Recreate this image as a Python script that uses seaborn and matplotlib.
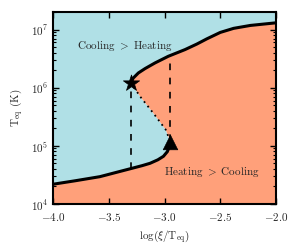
import numpy as np
import pandas as pd
import matplotlib
matplotlib.use("Agg")
import matplotlib.pyplot as plt
import seaborn as sns

# ---- data ----
# stable lower branch (log10 T, x)
low_logT = [4.00, 4.34, 4.40, 4.47, 4.51, 4.56, 4.61, 4.66, 4.70, 4.76, 4.82, 4.90, 5.00, 5.08]
low_x    = [-5.0, -4.0, -3.80, -3.58, -3.50, -3.40, -3.30, -3.20, -3.13, -3.06, -3.01, -2.975, -2.955, -2.95]
# unstable middle branch
mid_logT = [5.08, 5.28, 5.56, 5.85, 6.08]
mid_x    = [-2.95, -2.99, -3.10, -3.22, -3.30]
# stable upper branch
up_logT = [6.08, 6.12, 6.167, 6.253, 6.328, 6.426, 6.54, 6.655, 6.75, 6.84, 6.95, 7.02, 7.07, 7.115, 7.35]
up_x    = [-3.30, -3.295, -3.28, -3.235, -3.175, -3.085, -2.966, -2.816, -2.71, -2.62, -2.50, -2.38, -2.23, -2.00, -0.80]

# turning points
star_x, star_logT = [-3.30], [6.08]
tri_x, tri_logT = [-2.95], [5.06]
# dashed verticals: x, log T from, log T to
vline_x = [-3.30, -2.95]
vline_lo = [4.61, 5.08]
vline_hi = [6.08, 6.545]

xticks = [-4.0, -3.5, -3.0, -2.5, -2.0]
yticks = [1e4, 1e5, 1e6, 1e7]

blue = "#B0E0E6"
salmon = "#FFA07A"

sns.set_style("ticks")
plt.rcParams["font.family"] = ["DejaVu Serif"]
plt.rcParams["mathtext.fontset"] = "cm"
plt.rcParams["font.size"] = 8

fig = plt.figure(figsize=(3.0, 2.5), dpi=100)
ax = fig.add_axes([0.177, 0.184, 0.743, 0.768])

all_logT = np.array(low_logT + mid_logT[1:] + up_logT[1:])
all_x = np.array(low_x + mid_x[1:] + up_x[1:])
all_T = 10 ** all_logT

ax.fill_betweenx(all_T, -6, all_x, color=blue, lw=0, zorder=0)
ax.fill_betweenx(all_T, all_x, 1, color=salmon, lw=0, zorder=0)

low = pd.DataFrame({"x": low_x, "T": 10 ** np.array(low_logT)})
mid = pd.DataFrame({"x": mid_x, "T": 10 ** np.array(mid_logT)})
up = pd.DataFrame({"x": up_x, "T": 10 ** np.array(up_logT)})

sns.lineplot(data=low, x="x", y="T", sort=False, estimator=None, color="k", lw=2.2, ax=ax)
sns.lineplot(data=up, x="x", y="T", sort=False, estimator=None, color="k", lw=2.2, ax=ax)
sns.lineplot(data=mid, x="x", y="T", sort=False, estimator=None, color="k", lw=1.3,
             linestyle=(0, (1, 2.2)), ax=ax)

for xv, lo, hi in zip(vline_x, vline_lo, vline_hi):
    ax.plot([xv, xv], [10 ** lo, 10 ** hi], color="k", lw=1.2, linestyle=(0, (4, 4.5)), zorder=2)

sns.scatterplot(x=star_x, y=10 ** np.array(star_logT), marker="*", s=150, color="k",
                edgecolor="k", linewidth=0.5, ax=ax, zorder=5)
sns.scatterplot(x=tri_x, y=10 ** np.array(tri_logT), marker="^", s=110, color="k",
                edgecolor="k", linewidth=0.5, ax=ax, zorder=5)

ax.set_yscale("log")
ax.set_xlim(-4, -2)
ax.set_ylim(1e4, 2e7)
ax.set_xticks(xticks)
ax.set_xticklabels([r"$%.1f$" % v for v in xticks])
ax.set_yticks(yticks)
ax.set_yticklabels([r"$10^{%d}$" % int(np.log10(v)) for v in yticks])

ax.text(-3.79, 10 ** 6.72, r"$\mathrm{Cooling}\ >\ \mathrm{Heating}$", fontsize=8, ha="left", va="center")
ax.text(-2.58, 10 ** 4.55, r"$\mathrm{Heating}\ >\ \mathrm{Cooling}$", fontsize=8, ha="center", va="center")

ax.set_xlabel(r"$\log(\xi/\mathrm{T_{eq}})$", fontsize=8, labelpad=4)
ax.set_ylabel(r"$\mathrm{T_{eq}\ (K)}$", fontsize=8, labelpad=4)

ax.tick_params(which="both", direction="in", top=True, right=True, labelsize=8, color="k")
ax.tick_params(which="major", length=4, width=1)
ax.tick_params(axis="x", which="major", pad=5)
ax.tick_params(which="minor", length=2, width=0.8)
for sp in ax.spines.values():
    sp.set_linewidth(1.5)
    sp.set_color("k")
    sp.set_zorder(10)

fig.savefig("out.png", dpi=100)
